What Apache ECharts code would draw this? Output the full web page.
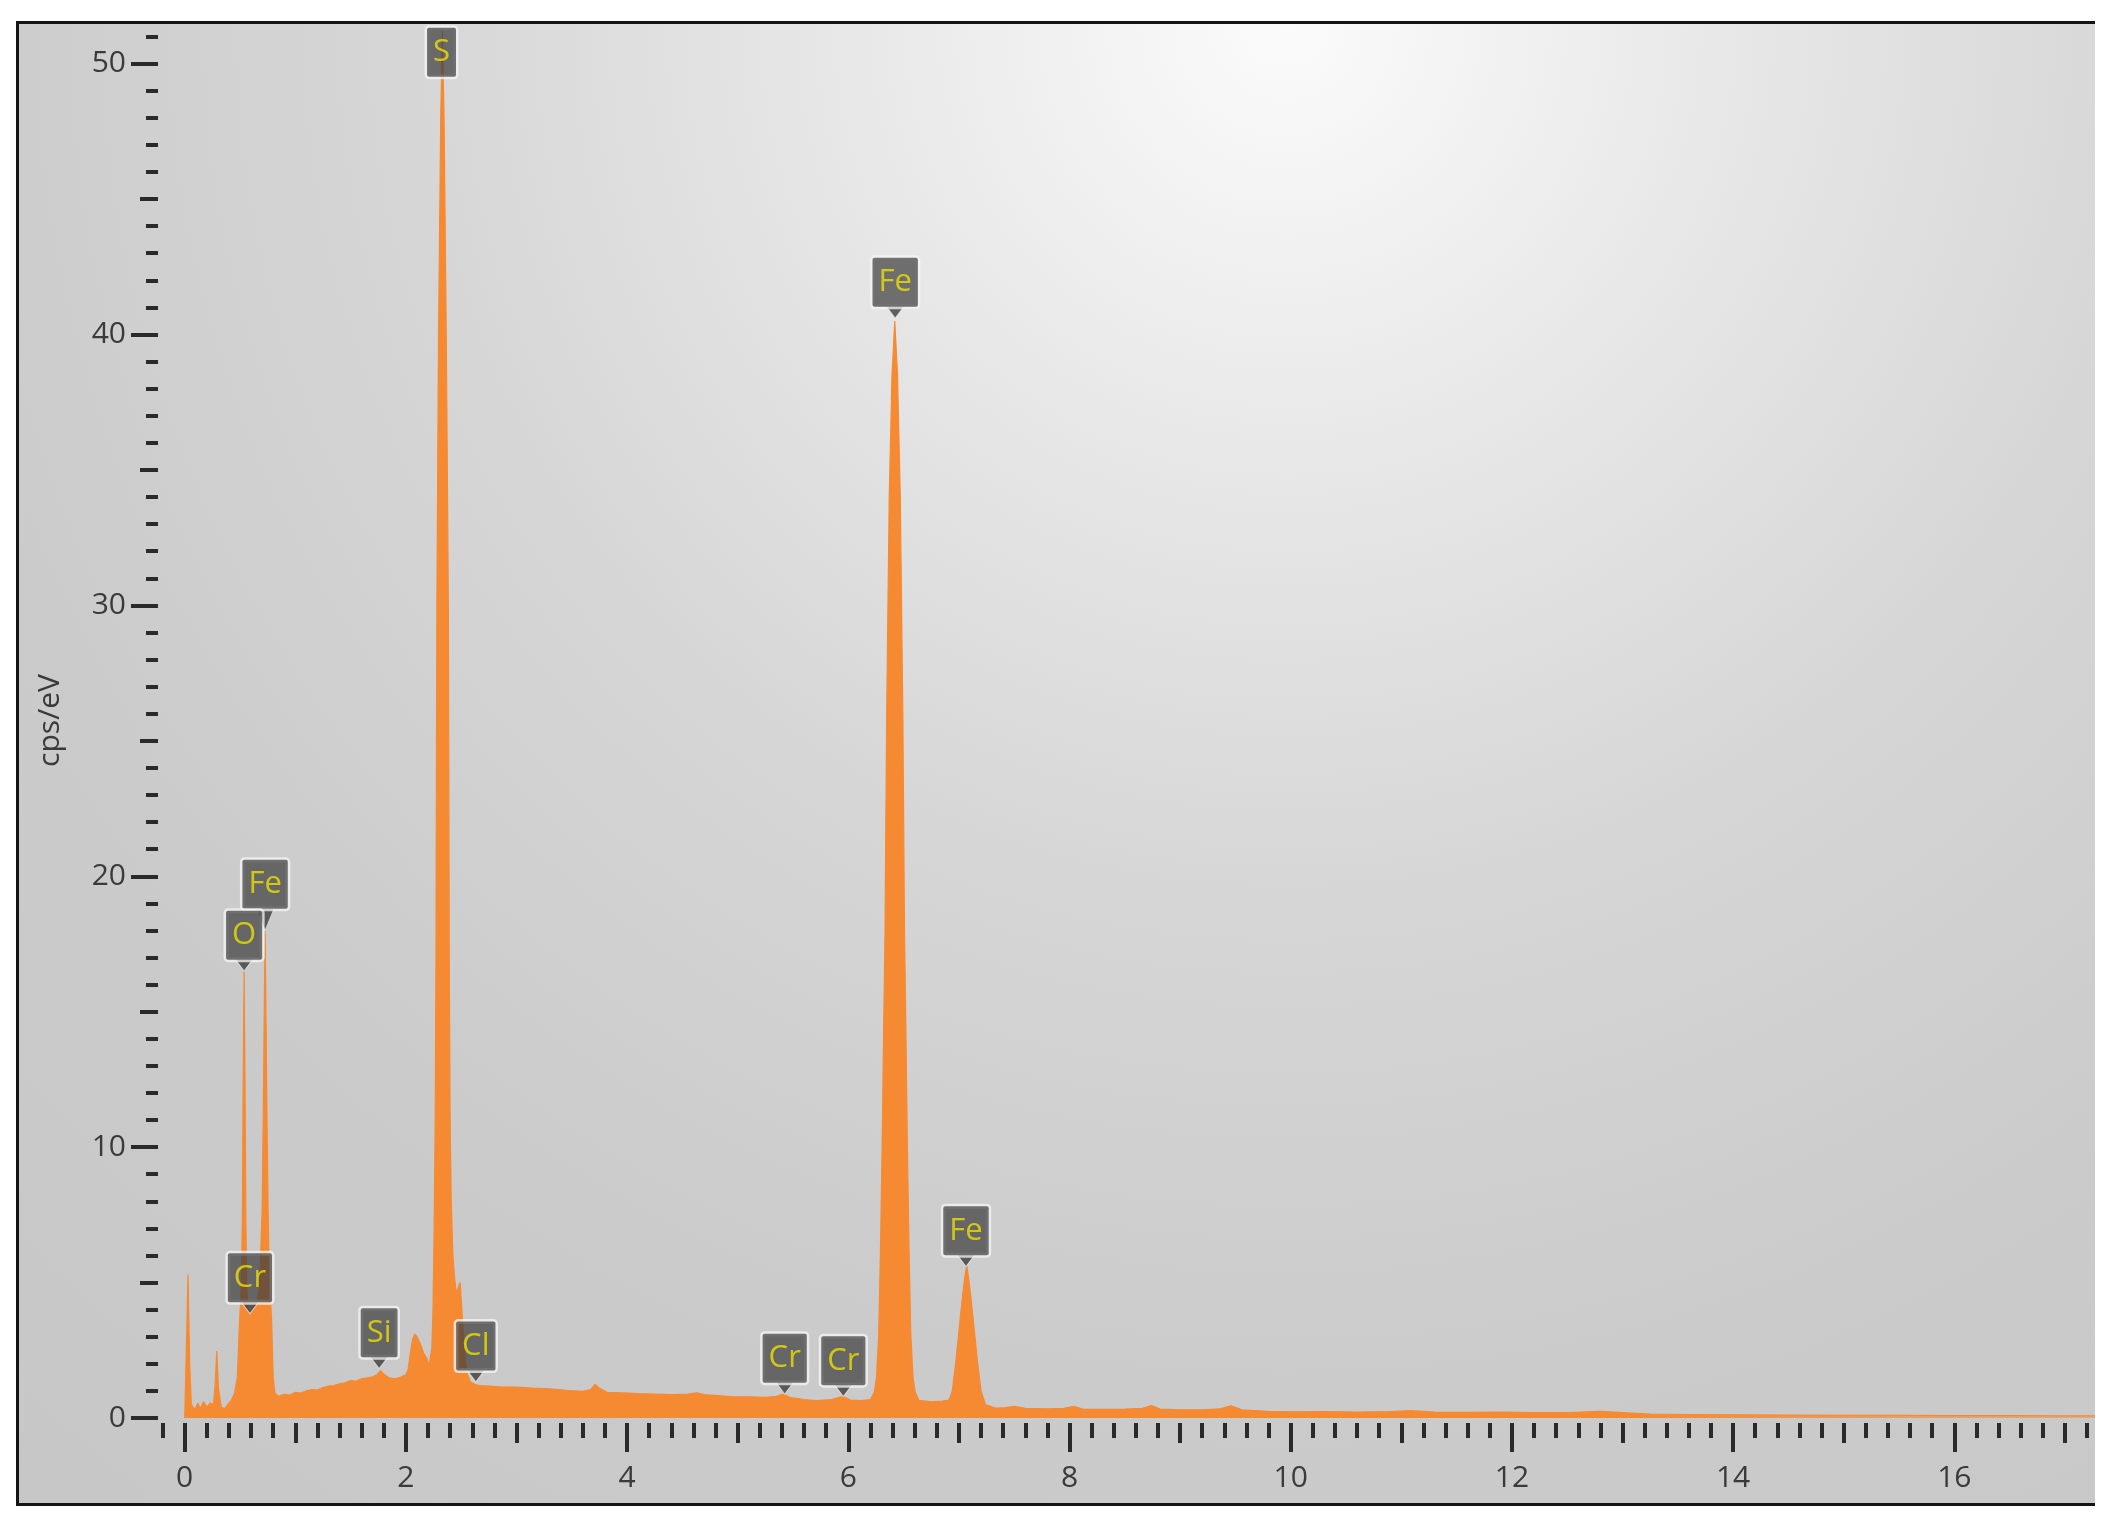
<!DOCTYPE html>
<html><head><meta charset="utf-8">
<script src="https://cdn.jsdelivr.net/npm/echarts@6/dist/echarts.min.js"></script>
<style>
html,body{margin:0;padding:0;background:#fff;width:2114px;height:1528px;overflow:hidden;}
#frame{position:absolute;left:16px;top:21px;width:2079px;height:1485px;box-sizing:border-box;border-top:3px solid #141414;border-left:3px solid #141414;border-bottom:3px solid #141414;background:radial-gradient(circle at 61% 0%, #fbfbfb 0%, #e8e8e8 22%, #d6d6d6 45%, #cbcbcb 70%, #c7c7c7 100%);}
#chart{position:absolute;left:0;top:0;width:2114px;height:1528px;}
</style></head><body>
<div id="frame"></div>
<div id="chart"></div>
<script>
// ---- data (energy in keV, intensity in cps/eV) ----
const energyKeV = [
 0.00,0.015,0.03,0.045,0.06,0.09,0.12,0.14,0.17,0.20,0.23,0.26,0.275,0.29,0.305,0.33,0.36,0.39,0.42,0.45,
 0.476,0.49,0.50,0.505,0.515,0.522,0.528,0.533,0.537,0.541,0.546,0.552,0.56,0.57,0.59,0.62,0.65,0.67,
 0.68,0.69,0.70,0.71,0.717,0.722,0.727,0.732,0.737,0.744,0.754,0.765,0.775,0.786,0.80,0.816,0.85,
 0.90,0.95,1.00,1.05,1.10,1.15,1.20,1.25,1.30,1.35,1.40,1.45,1.50,1.55,1.60,1.65,1.70,1.74,1.77,1.80,1.85,1.90,1.95,
 2.00,2.02,2.04,2.06,2.08,2.10,2.13,2.16,2.19,2.21,2.22,
 2.235,2.245,2.255,2.265,2.272,2.276,2.28,2.295,2.315,2.33,2.345,2.365,2.384,2.388,2.392,2.40,2.41,2.425,2.44,2.455,2.47,2.48,2.49,2.50,2.515,2.53,2.55,2.58,2.62,
 2.66,2.75,2.85,3.00,3.15,3.30,3.45,3.60,3.67,3.71,3.75,3.82,3.95,4.10,4.25,4.40,4.55,4.63,4.70,4.85,4.96,5.10,5.25,5.35,5.41,5.47,5.60,5.71,5.85,5.95,6.02,6.12,6.20,
 6.235,6.255,6.275,6.29,6.305,6.32,6.332,6.347,6.37,6.395,6.42,6.445,6.47,6.493,6.508,6.52,6.535,6.55,6.565,6.585,6.605,
 6.64,6.75,6.85,6.91,6.94,6.97,7.00,7.03,7.05,7.07,7.09,7.11,7.14,7.17,7.20,7.24,
 7.33,7.42,7.50,7.60,7.80,7.95,8.04,8.12,8.30,8.50,8.66,8.74,8.82,9.00,9.20,9.36,9.46,9.56,9.80,10.0,10.3,10.6,10.9,11.09,11.3,11.6,11.9,12.2,12.5,12.8,12.92,13.25,13.6,14.0,14.5,15.0,15.5,16.0,16.5,17.0,17.27
];
const countsCps = [
 0.0,2.5,5.3,2.0,0.5,0.3,0.55,0.35,0.6,0.4,0.55,0.5,1.2,2.47,1.1,0.4,0.35,0.5,0.65,0.9,
 1.5,3.0,3.9,4.2,5.5,7.6,12.0,14.5,16.5,14.5,12.0,7.6,5.0,4.1,3.8,4.1,4.3,4.6,
 5.2,6.5,7.6,11.0,14.0,16.1,18.0,16.1,14.0,11.0,7.6,5.2,4.4,3.6,1.5,0.92,0.8,
 0.88,0.85,0.95,0.92,1.0,1.05,1.03,1.12,1.18,1.2,1.26,1.3,1.38,1.36,1.45,1.48,1.52,1.6,1.75,1.62,1.48,1.45,1.5,
 1.6,1.8,2.4,2.9,3.1,3.0,2.75,2.4,2.2,1.95,1.9,
 2.6,4.0,7.0,11.0,17.0,24.0,30.0,40.0,48.0,51.2,48.0,40.0,30.0,24.0,17.0,11.0,8.0,6.0,5.2,4.6,4.6,4.9,5.0,4.4,3.4,2.4,1.7,1.35,1.25,
 1.2,1.18,1.15,1.14,1.1,1.08,1.02,0.98,1.05,1.24,1.1,0.95,0.93,0.9,0.88,0.86,0.88,0.93,0.86,0.82,0.78,0.78,0.76,0.8,0.88,0.76,0.68,0.64,0.68,0.8,0.66,0.64,0.68,
 0.95,1.5,3.1,6.0,9.8,14.5,18.0,26.0,34.0,38.5,40.5,38.5,34.0,26.0,18.0,14.5,9.8,6.0,3.1,1.5,0.95,
 0.65,0.6,0.62,0.66,1.0,2.0,3.2,4.4,5.1,5.65,5.1,4.4,3.2,2.0,1.0,0.5,
 0.37,0.38,0.43,0.36,0.34,0.36,0.43,0.33,0.32,0.33,0.36,0.46,0.33,0.3,0.3,0.34,0.45,0.3,0.25,0.23,0.24,0.22,0.24,0.27,0.22,0.21,0.22,0.2,0.2,0.25,0.22,0.14,0.13,0.12,0.11,0.1,0.1,0.09,0.09,0.08,0.08
];
// element labels: name, energy (keV) and intensity at the pointer tip
const peakElements = ['Fe','O','Cr','Si','Cl','Cr','Cr','Fe','Fe','S'];
const peakKeV      = [0.727,0.537,0.59,1.758,2.632,5.425,5.955,6.424,7.064,2.322];
const peakCps      = [18.0,16.5,3.85,1.82,1.33,0.88,0.79,40.6,5.59,50.42];
// axis tick labels
const xTickLabels = [0,2,4,6,8,10,12,14,16];
const yTickLabels = [0,10,20,30,40,50];

// ---- axis geometry ----
const X_MIN = -0.2414, X_MAX = 17.272, Y_MIN = 0, Y_MAX = 51.5;
const xMinor = [], xMid = [], yMinor = [], yMid = [];
for (let v = -2; v <= 172; v += 2) xMinor.push(v / 10);
for (let v = 1; v <= 17; v += 2) xMid.push(v);
for (let v = 0; v <= 51; v += 1) yMinor.push(v);
for (let v = 5; v <= 45; v += 10) yMid.push(v);

const tickColor = '#2a2a2a';
const labelFont = {fontFamily:'Open Sans', fontSize:30, color:'#3a3a3a'};
function xAx(ticks, len, labels){
  return {type:'value', min:X_MIN, max:X_MAX, position:'bottom', offset:5,
    axisLine:{show:false, onZero:false}, splitLine:{show:false},
    axisTick:{show:true, length:len, customValues:ticks, lineStyle:{color:tickColor, width:4}},
    axisLabel: labels ? Object.assign({show:true, customValues:labels, margin:40}, labelFont) : {show:false}};
}
function yAx(ticks, len, labels){
  const a = {type:'value', min:Y_MIN, max:Y_MAX, position:'left', offset:0,
    axisLine:{show:false, onZero:false}, splitLine:{show:false},
    axisTick:{show:true, length:len, customValues:ticks, lineStyle:{color:tickColor, width:4}},
    axisLabel: labels ? Object.assign({show:true, customValues:labels, margin:32}, labelFont) : {show:false}};
  if (labels) {
    a.name = 'cps/eV'; a.nameLocation = 'middle'; a.nameGap = 93; a.nameRotate = 90;
    a.nameMoveOverlap = false;
    a.nameTextStyle = {fontFamily:'Open Sans', fontSize:30, color:'#3a3a3a'};
  }
  return a;
}

const spectrum = energyKeV.map((e, i) => [e, countsCps[i]]);
const markers = peakElements.map((el, i) => {
  const item = {name: el, value: [peakKeV[i], peakCps[i]]};
  if (el === 'S') { item.symbolSize = 0; item.symbolOffset = [0, 0]; item.label = {position:'inside'}; }
  if (i === 0) { item.symbolSize = [18, 22]; item.symbolOffset = [0, -11]; }
  return item;
});

const orange = '#f68a32';
const chart = echarts.init(document.getElementById('chart'), null, {renderer:'canvas'});
chart.setOption({
  animation:false,
  backgroundColor:'transparent',
  grid:{left:158, right:19, top:23, bottom:110, containLabel:false},
  xAxis:[ xAx(xTickLabels, 29, xTickLabels), xAx(xMid, 20, null), xAx(xMinor, 15, null) ],
  yAxis:[ yAx(yTickLabels, 27, yTickLabels), yAx(yMid, 18, null), yAx(yMinor, 12, null) ],
  series:[
    {type:'line', data:spectrum, xAxisIndex:0, yAxisIndex:0, symbol:'none', showSymbol:false, smooth:false, silent:true,
     lineStyle:{color:orange, width:1.2},
     areaStyle:{opacity:1, color:new echarts.graphic.LinearGradient(0,0,1,0,[
        {offset:0,color:orange},{offset:0.76,color:orange},{offset:1,color:'rgba(246,138,50,0.45)'}])},
     z:2},
    {type:'scatter', data:markers, xAxisIndex:0, yAxisIndex:0, silent:true,
     symbol:'path://M0,0L18,0L9,12Z', symbolSize:[18,12], symbolOffset:[0,-6],
     itemStyle:{color:'rgba(52,52,52,0.95)', borderColor:'rgba(240,240,240,0.85)', borderWidth:1},
     label:{show:true, position:'top', distance:-1, formatter:'{b}', fontFamily:'Open Sans', fontSize:31,
       color:'#ece000', backgroundColor:'rgba(58,58,58,0.88)', padding:[7,6,7,6], lineHeight:35,
       borderColor:'rgba(244,244,244,0.95)', borderWidth:2.5, borderRadius:2},
     z:5}
  ]
});
</script></body></html>
